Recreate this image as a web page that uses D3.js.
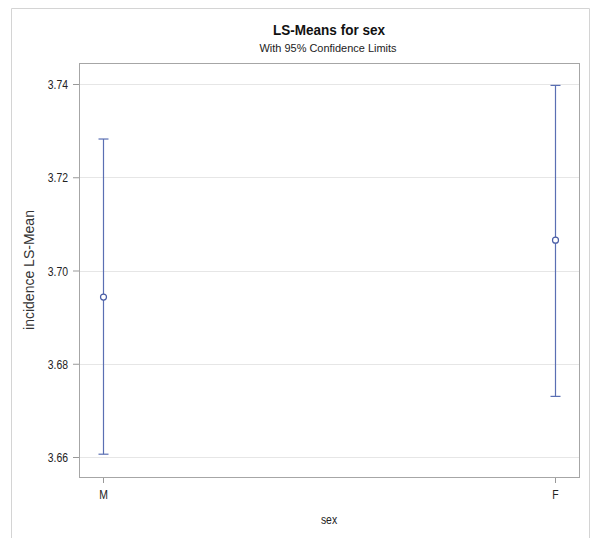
<!DOCTYPE html>
<html>
<head>
<meta charset="utf-8">
<script src="https://cdn.jsdelivr.net/npm/d3@7"></script>
<style>
  body { margin: 0; background: #fff; }
  svg text { font-family: "Liberation Sans", Arial, sans-serif; }
</style>
</head>
<body>
<div id="chart"></div>
<script>
// LS-means with 95% limits
const categories = ["M", "F"];
const means = [3.6943, 3.7065];
const lowerCL = [3.6606, 3.6730];
const upperCL = [3.7282, 3.7397];
const yTicks = [3.66, 3.68, 3.70, 3.72, 3.74];

const width = 593;
const height = 538;
const plot = { left: 79, right: 579, top: 63, bottom: 477 };

const svg = d3.select("#chart").append("svg")
    .attr("width", width)
    .attr("height", height);

// squeeze text horizontally, the SAS font is narrow
function narrow(sel, k) {
    sel.each(function () {
        const w = this.getComputedTextLength();
        d3.select(this)
            .attr("textLength", w * k)
            .attr("lengthAdjust", "spacingAndGlyphs");
    });
}

// outer frame (no bottom edge visible)
svg.append("path")
    .attr("d", `M11.5,${height} V8.5 H589.5 V${height}`)
    .attr("fill", "none")
    .attr("stroke", "#d4d4d4");

svg.append("text")
    .attr("x", 329).attr("y", 35)
    .attr("text-anchor", "middle")
    .attr("textLength", 112).attr("lengthAdjust", "spacingAndGlyphs")
    .style("font-size", "14px").style("font-weight", "bold")
    .attr("fill", "#111")
    .text("LS-Means for sex");

svg.append("text")
    .attr("x", 328).attr("y", 52)
    .attr("text-anchor", "middle")
    .attr("textLength", 137).attr("lengthAdjust", "spacingAndGlyphs")
    .style("font-size", "11.5px")
    .attr("fill", "#222")
    .text("With 95% Confidence Limits");

const x = d3.scalePoint()
    .domain(categories)
    .range([103, 555]);

const y = d3.scaleLinear()
    .domain([3.66, 3.74])
    .range([457, 84]);

// grid lines
svg.append("g")
    .selectAll("line")
    .data(yTicks)
    .enter()
    .append("line")
    .attr("x1", plot.left).attr("x2", plot.right)
    .attr("y1", d => Math.round(y(d)) + 0.5)
    .attr("y2", d => Math.round(y(d)) + 0.5)
    .attr("stroke", "#e6e6e6");

// axes
const yAxis = svg.append("g")
    .attr("transform", `translate(${plot.left},0)`)
    .call(d3.axisLeft(y).tickValues(yTicks).tickFormat(d3.format(".2f")).tickSize(6).tickSizeOuter(0));

const xAxis = svg.append("g")
    .attr("transform", `translate(0,${plot.bottom})`)
    .call(d3.axisBottom(x).tickSize(6).tickSizeOuter(0));

[yAxis, xAxis].forEach(a => {
    a.select(".domain").remove();
    a.selectAll(".tick line").attr("stroke", "#999");
    a.selectAll(".tick text")
        .attr("fill", "#222")
        .style("font-size", "13px")
        .style("font-family", "'Liberation Sans', Arial, sans-serif")
        .call(narrow, 0.8);
});
yAxis.selectAll(".tick text").attr("x", -11).attr("dy", "0.36em");
xAxis.selectAll(".tick text").attr("y", 13);

// plot frame
svg.append("rect")
    .attr("x", plot.left + 0.5).attr("y", plot.top + 0.5)
    .attr("width", plot.right - plot.left)
    .attr("height", plot.bottom - plot.top)
    .attr("fill", "none")
    .attr("stroke", "#a6a6a6");

svg.append("text")
    .attr("x", 329).attr("y", 524)
    .attr("text-anchor", "middle")
    .style("font-size", "13px")
    .attr("fill", "#222")
    .text("sex")
    .call(narrow, 0.8);

svg.append("text")
    .attr("transform", `translate(34,270) rotate(-90)`)
    .attr("text-anchor", "middle")
    .style("font-size", "14px")
    .attr("fill", "#333")
    .text("incidence LS-Mean");

// error bars
const color = "#5a6fb3";
const bars = svg.append("g")
    .selectAll("g")
    .data(categories.map((c, i) => ({ cat: c, mean: means[i], lo: lowerCL[i], hi: upperCL[i] })))
    .enter()
    .append("g");

bars.append("line")
    .attr("x1", d => x(d.cat) + 0.5).attr("x2", d => x(d.cat) + 0.5)
    .attr("y1", d => y(d.hi)).attr("y2", d => y(d.lo))
    .attr("stroke", color).attr("stroke-width", 1.2);

bars.selectAll(".cap")
    .data(d => [{ cat: d.cat, v: d.hi }, { cat: d.cat, v: d.lo }])
    .enter()
    .append("line")
    .attr("x1", d => x(d.cat) - 4.5).attr("x2", d => x(d.cat) + 5.5)
    .attr("y1", d => y(d.v)).attr("y2", d => y(d.v))
    .attr("stroke", color).attr("stroke-width", 1.2);

bars.append("circle")
    .attr("cx", d => x(d.cat) + 0.5)
    .attr("cy", d => y(d.mean))
    .attr("r", 3)
    .attr("fill", "#fff")
    .attr("stroke", "#4a5ea6")
    .attr("stroke-width", 1.2);
</script>
</body>
</html>
